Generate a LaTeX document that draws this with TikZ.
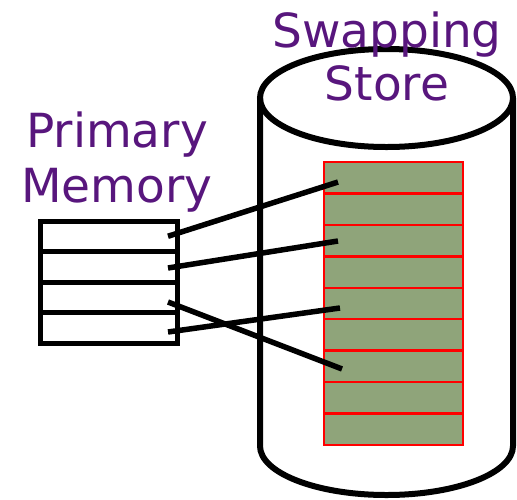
\documentclass[tikz,border=0pt]{standalone}
\usepackage{fontspec}
\setmainfont{DejaVu Sans}
\definecolor{txtpurple}{RGB}{88,22,125}
\definecolor{cellgreen}{RGB}{143,164,122}
\begin{document}
\begin{tikzpicture}[x=1pt,y=-1pt,
  txtlabel/.style={text=txtpurple,font=\fontsize{47}{56}\selectfont,anchor=base,inner sep=0pt},
  memcell/.style={draw=black,line width=5pt,rectangle,minimum width=137pt,minimum height=30.5pt,inner sep=0pt,outer sep=0pt},
  storecell/.style={draw=red,fill=cellgreen,line width=2.5pt,rectangle,minimum width=139pt,minimum height=31.44pt,inner sep=0pt,outer sep=0pt},
  link/.style={draw=black,line width=5.5pt},
  cyl/.style={draw=black,line width=6pt}]
\useasboundingbox (0,0) rectangle (517,499);
% cylinder
\draw[cyl] (260,98) -- (260,446) arc[start angle=180,end angle=360,x radius=126.5pt,y radius=49pt] -- (513,98);
\draw[cyl] (386.5,98) ellipse[x radius=126.5pt,y radius=49pt];
% labels
\node[txtlabel] (sw) at (387,47) {Swapping};
\node[txtlabel] (st) at (387,100) {Store};
\node[txtlabel] (pr) at (117,147) {Primary};
\node[txtlabel] (me) at (117,202) {Memory};
% primary memory cells
\node[memcell] (m1) at (108.5,236.25) {};
\node[memcell] (m2) at (108.5,266.75) {};
\node[memcell] (m3) at (108.5,297.25) {};
\node[memcell] (m4) at (108.5,327.75) {};
% swapping store cells
\foreach \i in {1,...,9}{
  \node[storecell] (s\i) at (393.5,{162+31.44*(\i-0.5)}) {};
}
% links
\draw[link] ([shift={(-9,0)}]m1.east) -- ([shift={(14,4.3)}]s1.west);
\draw[link] ([shift={(-9,1.25)}]m2.east) -- ([shift={(14,0.4)}]s3.west);
\draw[link] ([shift={(-9,4.25)}]m4.east) -- ([shift={(16,4.5)}]s5.west);
\draw[link] ([shift={(-9,4.75)}]m3.east) -- ([shift={(18,2.6)}]s7.west);
\end{tikzpicture}
\end{document}
